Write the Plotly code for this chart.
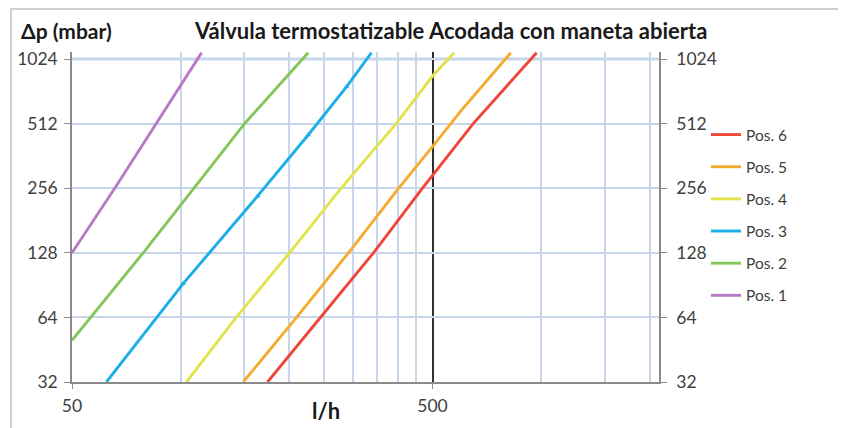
import plotly.graph_objects as go
import math

# ---- data (flow l/h vs pressure drop mbar) ----
pos1_q = [50, 65.7, 114.4]
pos1_dp = [128, 256, 1096]

pos2_q = [50, 78.8, 150.5, 226]
pos2_dp = [50, 128, 512, 1096]

pos3_q = [62.3, 101.7, 163.5, 226, 288.6, 338.6]
pos3_dp = [32, 92, 235, 453, 760, 1096]
pos3_mark_q = [101.7, 163.5, 226, 288.6]
pos3_mark_dp = [92, 235, 453, 760]

pos4_q = [103.9, 142.7, 200.6, 279, 349, 396.6, 500, 574]
pos4_dp = [32, 64, 128, 256, 399, 512, 853, 1096]

pos5_q = [149.3, 209.8, 292.4, 403, 500, 601.6, 824.5]
pos5_dp = [32, 64, 128, 256, 400, 592, 1096]

pos6_q = [174.3, 245, 343, 469, 648.4, 972]
pos6_dp = [32, 64, 128, 256, 512, 1096]

series_names = ["Pos. 1", "Pos. 2", "Pos. 3", "Pos. 4", "Pos. 5", "Pos. 6"]

y_ticks = [32, 64, 128, 256, 512, 1024]
x_major_ticks = [50, 500]
x_major_labels = ["50", "500"]
x_minor_ticks = [100, 150, 200, 250, 300, 350, 400, 450, 1000, 1500, 2000]

title_text = "Válvula termostatizable Acodada con maneta abierta"
y_title = "Δp (mbar)"
x_title = "l/h"

# ---- styles ----
colors = ["#B67BC3", "#84C65A", "#1CAEE6", "#E3E34C", "#F5AC2E", "#F0463A"]
FONT = "Lato"
GRID = "#C8D6EB"
AXIS = "#8A8A8A"
TICKFONT = dict(family=FONT, size=17.5, color="#404040")

# page body has an 8px margin; target positions are in window pixels
OFF = 8
L, R, T, B = 72, 659, 52, 382          # plot area in window pixels
W, H = 846 - OFF, 428 - OFF
PW, PH = R - L, B - T


def px(x):
    return (x - L) / PW


def py(y):
    return (B - y) / PH


series = [(pos1_q, pos1_dp), (pos2_q, pos2_dp), (pos3_q, pos3_dp),
          (pos4_q, pos4_dp), (pos5_q, pos5_dp), (pos6_q, pos6_dp)]

fig = go.Figure()
for i, ((q, dp), name) in enumerate(zip(series, series_names)):
    fig.add_trace(go.Scatter(
        x=q, y=dp, mode="lines", name=name,
        line=dict(color=colors[i], width=2.9),
        legendgroup=name, legendrank=10 - i,
    ))

fig.add_trace(go.Scatter(
    x=pos3_mark_q, y=pos3_mark_dp, mode="markers", showlegend=False,
    marker=dict(color=colors[2], size=5, symbol="triangle-up"),
    hoverinfo="skip",
))

# invisible trace to activate right axis
fig.add_trace(go.Scatter(x=[50], y=[32], yaxis="y2", mode="markers",
                         marker=dict(opacity=0), showlegend=False, hoverinfo="skip"))

xr = [math.log10(50), math.log10(2124)]
yr = [math.log10(32), math.log10(1104)]

fig.update_layout(
    width=W, height=H,
    margin=dict(l=L - OFF, r=W - (R - OFF), t=T - OFF, b=H - (B - OFF), autoexpand=False),
    paper_bgcolor="white", plot_bgcolor="white",
    showlegend=True,
    legend=dict(
        x=px(706), y=py(118), xanchor="left", yanchor="top",
        traceorder="grouped", tracegroupgap=9,
        font=dict(family=FONT, size=15.5, color="#404040"),
        itemwidth=30, bgcolor="rgba(0,0,0,0)",
    ),
    xaxis=dict(
        type="log", range=xr, automargin=False,
        tickmode="array", tickvals=x_major_ticks, ticktext=x_major_labels,
        showgrid=True, gridcolor="#303030", gridwidth=1.5,
        minor=dict(tickmode="array", tickvals=x_minor_ticks, showgrid=True,
                   gridcolor=GRID, gridwidth=1.5, ticks=""),
        showline=True, linecolor=AXIS, linewidth=1.5,
        ticks="outside", ticklen=5, tickcolor=AXIS,
        tickfont=TICKFONT, ticklabelstandoff=2,
        zeroline=False,
    ),
    yaxis=dict(
        type="log", range=yr, automargin=False,
        tickmode="array", tickvals=y_ticks, ticktext=[str(v) for v in y_ticks],
        showgrid=True, gridcolor=GRID, gridwidth=1.5,
        showline=True, linecolor=AXIS, linewidth=1.5,
        ticks="outside", ticklen=6, tickcolor=AXIS,
        tickfont=TICKFONT, ticklabelstandoff=3,
        zeroline=False,
    ),
    yaxis2=dict(
        type="log", range=yr, overlaying="y", side="right", automargin=False,
        tickmode="array", tickvals=y_ticks, ticktext=[str(v) for v in y_ticks],
        showgrid=False,
        showline=True, linecolor=AXIS, linewidth=1.5,
        ticks="outside", ticklen=6, tickcolor=AXIS,
        tickfont=TICKFONT, ticklabelstandoff=6,
        zeroline=False,
    ),
    annotations=[
        dict(text="<b>" + y_title + "</b>", xref="paper", yref="paper",
             x=px(66), y=py(30), xanchor="center", yanchor="middle",
             showarrow=False, font=dict(family=FONT, size=21, color="#1A1A1A")),
        dict(text="<b>" + title_text + "</b>", xref="paper", yref="paper",
             x=px(451), y=py(30), xanchor="center", yanchor="middle",
             showarrow=False, font=dict(family=FONT, size=22, color="#1A1A1A")),
        dict(text="<b>" + x_title + "</b>", xref="paper", yref="paper",
             x=px(326), y=py(410), xanchor="center", yanchor="middle",
             showarrow=False, font=dict(family=FONT, size=22, color="#1A1A1A")),
    ],
    shapes=[
        dict(type="rect", xref="paper", yref="paper",
             x0=px(11), x1=px(900), y0=py(480), y1=py(9),
             line=dict(color="#CFCFCF", width=2), fillcolor="rgba(0,0,0,0)",
             layer="below"),
        dict(type="line", xref="paper", yref="y",
             x0=0, x1=1, y0=1024, y1=1024,
             line=dict(color=GRID, width=3), layer="below"),
    ],
)

fig.write_html("out.html")
